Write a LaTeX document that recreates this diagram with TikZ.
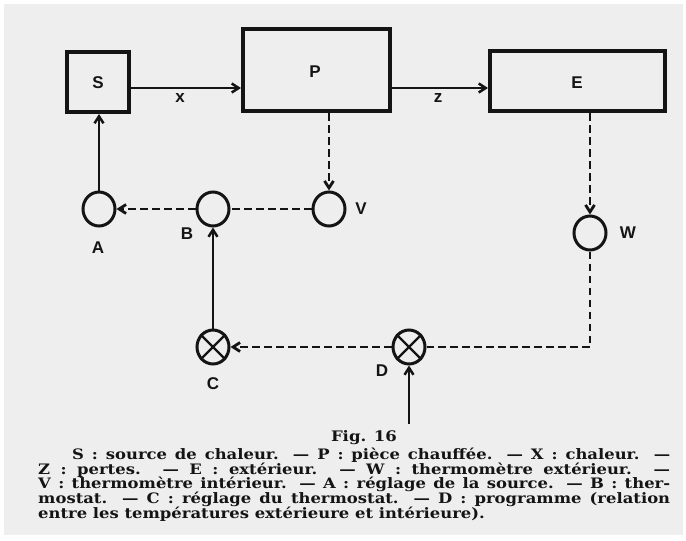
\documentclass[tikz,border=0pt]{standalone}
\usepackage{fontspec}
\setmainfont{DejaVu Serif}
\newfontfamily\capfont[FakeStretch=1.14]{DejaVu Serif}
\newfontfamily\lblfont{Liberation Sans}
\usetikzlibrary{arrows.meta,shapes.geometric}
\definecolor{bgcol}{HTML}{EEEEEE}
\definecolor{ink}{HTML}{141414}
\begin{document}
\begin{tikzpicture}[x=1pt,y=-1pt,
  >={Straight Barb[length=7pt,width=9pt]},
  box/.style={draw=ink,line width=3.6pt,inner sep=0pt},
  circ/.style={draw=ink,ellipse,line width=3pt,minimum width=32pt,minimum height=34pt,inner sep=0pt},
  lbl/.style={text=ink,font=\lblfont\bfseries\fontsize{17}{17}\selectfont,inner sep=0pt},
  solidline/.style={draw=ink,line width=2.5pt},
  dashline/.style={draw=ink,line width=2.8pt,dash pattern=on 7.5pt off 4.5pt},
  capline/.style={text=ink,font=\capfont\bfseries\fontsize{14.4}{14.7}\selectfont,inner sep=0pt,anchor=base west},
]
\useasboundingbox (0,0) rectangle (686,541);
\fill[white] (0,0) rectangle (686,541);
\fill[bgcol] (4,4) rectangle (683,535);

% boxes
\node[box,minimum width=62.4pt,minimum height=60.4pt] (S) at (98,82) {};
\node[box,minimum width=147.4pt,minimum height=82.4pt] (P) at (316.5,70) {};
\node[box,minimum width=175.4pt,minimum height=60.4pt] (E) at (577.5,81) {};
\node[lbl] (Sl) at (98,83) {S};
\node[lbl] (Pl) at (315,72) {P};
\node[lbl] (El) at (577,83) {E};

% circles
\node[circ] (A) at (99,209) {};
\node[circ] (B) at (213,209) {};
\node[circ] (V) at (329,209) {};
\node[circ] (W) at (590,233) {};
\node[circ] (C) at (213,347) {};
\node[circ] (D) at (409,347) {};
\draw[ink,line width=2.4pt] (C.45) -- (C.225) (C.135) -- (C.315);
\draw[ink,line width=2.4pt] (D.45) -- (D.225) (D.135) -- (D.315);

\node[lbl] (Al) at (98,248) {A};
\node[lbl] (Bl) at (187,234) {B};
\node[lbl] (Vl) at (361,209) {V};
\node[lbl] (Wl) at (628,233) {W};
\node[lbl] (Cl) at (213,384) {C};
\node[lbl] (Dl) at (382,371) {D};

% connectors
\coordinate (xr) at (0,88);
\draw[solidline,->] (S.east |- xr) -- (P.west |- xr);
\draw[solidline,->] (P.east |- xr) -- (E.west |- xr);
\node[lbl] (xl) at (180,98) {x};
\node[lbl] (zl) at (438,98) {z};

\draw[solidline,->] (A.north) -- (A.north |- S.south);
\draw[dashline,->] (V.north |- P.south) -- (V.north);
\draw[dashline] (V.west) -- (B.east);
\draw[dashline,->] (B.west) -- (A.east);
\draw[dashline,->] (W.north |- E.south) -- (W.north);
\draw[dashline] (W.south) |- (D.east);
\draw[dashline,->] (D.west) -- (C.east);
\draw[solidline,->] (C.north) -- (B.south);
\coordinate (Din) at (409,424);
\draw[solidline,->] (Din) -- (D.south);

% caption
\node[text=ink,font=\capfont\bfseries\fontsize{14.5}{15}\selectfont,inner sep=0pt,anchor=base] (fig) at (364,441) {Fig. 16};
\node[capline] (c1) at (72,459) {\makebox[598pt][s]{S : source de chaleur. — P : pièce chauffée. — X : chaleur. —}};
\node[capline] (c2) at (38,474) {\makebox[632pt][s]{Z : pertes. — E : extérieur. — W : thermomètre extérieur. —}};
\node[capline] (c3) at (38,488.5) {\makebox[632pt][s]{V : thermomètre intérieur. — A : réglage de la source. — B : ther-}};
\node[capline] (c4) at (38,503) {\makebox[632pt][s]{mostat. — C : réglage du thermostat. — D : programme (relation}};
\node[capline] (c5) at (38,518) {entre les températures extérieure et intérieure).};
\end{tikzpicture}
\end{document}
